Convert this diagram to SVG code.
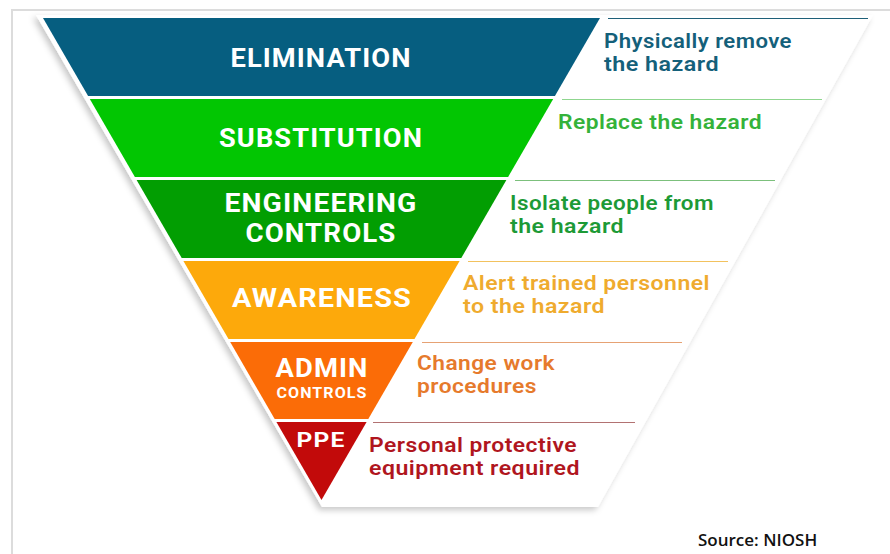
<svg xmlns="http://www.w3.org/2000/svg" width="890" height="554" viewBox="0 0 890 554">
  <defs>
    <filter id="shadow" x="-10%" y="-10%" width="120%" height="120%">
      <feDropShadow dx="-3" dy="3" stdDeviation="3" flood-color="#000" flood-opacity="0.22"/>
    </filter>
    <style>
      .lbl { font-family: Roboto, "Liberation Sans", sans-serif; font-weight: 700; fill: #ffffff; text-anchor: middle; letter-spacing: 1px; }
      .big { font-size: 25px; }
      .small { font-size: 15px; }
      .desc { font-family: Roboto, "Liberation Sans", sans-serif; font-weight: 600; font-size: 19.5px; letter-spacing: 0.4px; }
      .rule { stroke-width: 1.2; fill: none; }
      .src { font-family: "Open Sans", "Liberation Sans", sans-serif; font-weight: 600; font-size: 17px; fill: #111; }
    </style>
  </defs>
  <rect x="0" y="0" width="890" height="554" fill="#ffffff"/>
  <rect x="12" y="10" width="900" height="600" fill="#ffffff" stroke="#dcdcdc" stroke-width="2"/>

  <polygon id="backdrop" points="36,15 873,15 598,507 322,507" fill="#ffffff" filter="url(#shadow)"/>

  <g id="connectors">
    <line class="rule" x1="608" y1="18.5" x2="868" y2="18.5" stroke="#1d5f78"/>
    <line class="rule" x1="562" y1="99.5" x2="822" y2="99.5" stroke="#8fd68f"/>
    <line class="rule" x1="515" y1="180.5" x2="775" y2="180.5" stroke="#7cc07c"/>
    <line class="rule" x1="468" y1="261.5" x2="728" y2="261.5" stroke="#f2c25e"/>
    <line class="rule" x1="422" y1="342.5" x2="682" y2="342.5" stroke="#e6a274"/>
    <line class="rule" x1="373" y1="422.5" x2="635" y2="422.5" stroke="#b27272"/>
  </g>

  <g id="elimination">
    <polygon points="43,18 600,18 554.9,96 88.1,96" fill="#065e80"/>
    <text class="lbl big" x="321" y="67" textLength="181" lengthAdjust="spacingAndGlyphs">ELIMINATION</text>
    <text class="desc" fill="#14607a" x="604" y="48" textLength="188" lengthAdjust="spacingAndGlyphs">Physically remove</text>
    <text class="desc" fill="#14607a" x="604" y="71" textLength="115" lengthAdjust="spacingAndGlyphs">the hazard</text>
  </g>

  <g id="substitution">
    <polygon points="89.8,99 553.2,99 508.1,177 134.9,177" fill="#02c602"/>
    <text class="lbl big" x="321" y="147" textLength="204" lengthAdjust="spacingAndGlyphs">SUBSTITUTION</text>
    <text class="desc" fill="#34b23a" x="558" y="129" textLength="204" lengthAdjust="spacingAndGlyphs">Replace the hazard</text>
  </g>

  <g id="engineering">
    <polygon points="136.6,180 506.4,180 461.3,258 181.7,258" fill="#029e02"/>
    <text class="lbl big" x="321" y="212" textLength="193" lengthAdjust="spacingAndGlyphs">ENGINEERING</text>
    <text class="lbl big" x="321" y="242" textLength="151" lengthAdjust="spacingAndGlyphs">CONTROLS</text>
    <text class="desc" fill="#1d9a36" x="510" y="210" textLength="204" lengthAdjust="spacingAndGlyphs">Isolate people from</text>
    <text class="desc" fill="#1d9a36" x="510" y="233" textLength="114" lengthAdjust="spacingAndGlyphs">the hazard</text>
  </g>

  <g id="awareness">
    <polygon points="183.4,261 459.6,261 414.5,339 228.5,339" fill="#fda90b"/>
    <text class="lbl big" x="322" y="307" textLength="180" lengthAdjust="spacingAndGlyphs">AWARENESS</text>
    <text class="desc" fill="#efab2e" x="463" y="290" textLength="247" lengthAdjust="spacingAndGlyphs">Alert trained personnel</text>
    <text class="desc" fill="#efab2e" x="463" y="313" textLength="142" lengthAdjust="spacingAndGlyphs">to the hazard</text>
  </g>

  <g id="admin">
    <polygon points="230.2,342 412.8,342 368.3,419 274.7,419" fill="#fb6c07"/>
    <text class="lbl big" x="322" y="377" textLength="93" lengthAdjust="spacingAndGlyphs">ADMIN</text>
    <text class="lbl small" x="322" y="398" textLength="91" lengthAdjust="spacingAndGlyphs">CONTROLS</text>
    <text class="desc" fill="#e67a2c" x="417" y="370" textLength="138" lengthAdjust="spacingAndGlyphs">Change work</text>
    <text class="desc" fill="#e67a2c" x="417" y="393" textLength="120" lengthAdjust="spacingAndGlyphs">procedures</text>
  </g>

  <g id="ppe">
    <polygon points="276.4,422 366.6,422 321.5,500" fill="#c20a0a"/>
    <text class="lbl" font-size="21" x="321" y="447" textLength="49" lengthAdjust="spacingAndGlyphs">PPE</text>
    <text class="desc" fill="#b0161e" x="369" y="452" textLength="208" lengthAdjust="spacingAndGlyphs">Personal protective</text>
    <text class="desc" fill="#b0161e" x="369" y="475" textLength="211" lengthAdjust="spacingAndGlyphs">equipment required</text>
  </g>

  <text id="source" class="src" x="698" y="546">Source: NIOSH</text>
</svg>
